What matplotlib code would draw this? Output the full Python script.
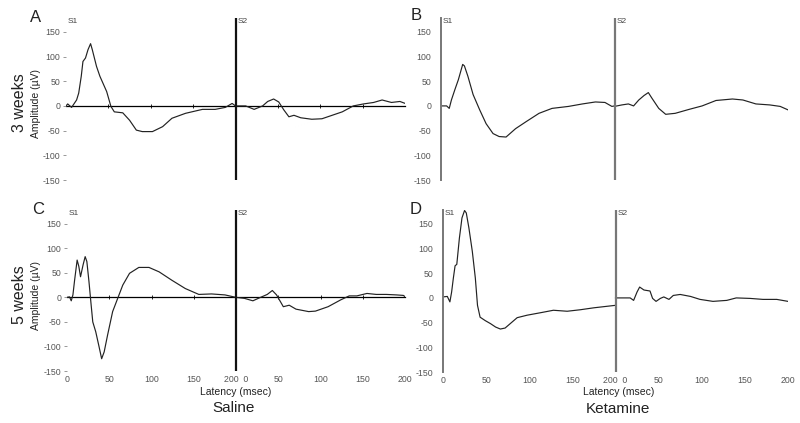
import numpy as np
import matplotlib
matplotlib.use("Agg")
import matplotlib.pyplot as plt

plt.rcParams['font.family'] = ['Liberation Sans', 'DejaVu Sans']

# latence (ms) et amplitude (uV), fenetre S1 puis fenetre S2
a_t1 = [0, 2, 6.6, 12.5, 15, 18, 20, 23, 26, 29, 31, 36, 40, 48, 53, 57, 67, 75, 83, 90,
        102, 114, 125, 141, 161, 176, 188, 196, 200]
a_v1 = [0, 4, -3, 12, 26, 60, 90, 97, 114, 126, 114, 80, 60, 29, -1, -12, -14, -29, -49, -52,
        -52, -42, -25, -15, -7, -7, -3, 5, 0]
a_t2 = [0, 12, 22, 32, 38, 45, 51, 57, 63, 69, 77, 90, 102, 114, 126, 139, 151, 163, 173,
        184, 194, 205]
a_v2 = [0, 0, -7, 0, 9, 14, 8, -8, -22, -19, -24, -27, -26, -19, -12, 0, 4, 7, 12,
        7, 9, 2]

b_t1 = [0, 6.5, 9.5, 12, 16, 20, 25, 27, 31, 37, 44.6, 52, 60, 67, 75, 86, 98, 113, 128,
        147, 163, 178, 189, 197, 200]
b_v1 = [0, 0, -5, 12, 33, 53, 84, 81, 60, 23, -8, -36, -56, -62, -63, -46, -32, -15, -5,
        -1, 4, 8, 7, -1, 0]
b_t2 = [0, 8.5, 16, 22, 28, 34, 39, 43, 51, 59, 70, 86, 101, 117, 136, 148, 163, 179, 191, 200]
b_v2 = [-1, 2, 4, 0, 12, 21, 27, 16, -5, -17, -15, -7, 0, 11, 14, 12, 4, 2, -1, -8]

c_t1 = [0, 3, 5, 7, 9, 12, 14, 16, 19, 21.5, 23.5, 26, 28.6, 30.5, 34, 38, 41, 44, 48, 54,
        60, 66, 74, 85, 97, 109, 124, 140, 156, 171, 187, 200]
c_v1 = [0, 1, -7, 5, 35, 76, 63, 42, 66, 83, 73, 32, -16, -50, -70, -101, -125, -111, -77, -29,
        -2, 25, 49, 61, 61, 52, 35, 18, 6, 7, 5, 0]
c_t2 = [0, 10, 20, 29, 37, 43, 48, 56, 63, 71, 86, 94, 109, 124, 134, 143, 155, 166, 178,
        190, 198, 203]
c_v2 = [0, -2, -7, 0, 6, 14, 5, -19, -16, -24, -29, -28, -19, -5, 3, 3, 8, 6, 6,
        5, 4, -2]

d_t1 = [0, 5, 8, 10, 12, 14, 16, 19, 22, 25, 27, 30, 34, 37.5, 40, 43, 49, 55, 61, 66.5,
        72, 78, 86, 97.5, 113, 128, 144, 159, 175, 190, 200]
d_v1 = [2, 3, -8, 12, 40, 65, 68, 121, 162, 177, 172, 142, 94, 40, -15, -39, -46, -52, -59, -63,
        -61, -52, -40, -35, -30, -25, -27, -24, -20, -17, -15]
d_t2 = [0, 17, 21, 25, 28, 33, 40, 43, 47, 52, 56, 62, 67, 75, 87, 98, 113, 129, 140,
        156, 171, 187, 200]
d_v2 = [0, 0, -5, 12, 22, 16, 14, -1, -7, -1, 2, -3, 5, 7, 3, -3, -7, -5, 0,
        -1, -3, -3, -7]

y_ticks = [-150, -100, -50, 0, 50, 100, 150]
x_ticks = [0, 50, 100, 150, 200, 250, 300, 350, 400]
x_labels = ['0', '50', '100', '150', '200  0', '50', '100', '150', '200']

W, H = 800, 423
fig = plt.figure(figsize=(W / 100, H / 100), dpi=100)


def px_axes(left, top, right, bottom):
    return fig.add_axes([left / W, 1 - bottom / H, (right - left) / W, (bottom - top) / H])


def panel(ax, t1, v1, t2, v2, saline, bottom_row):
    ax.plot(t1, v1, color='#222222', lw=0.85)
    ax.plot(np.array(t2) + 200, v2, color='#222222', lw=0.85)
    ax.set_xlim(0, 400)
    ax.set_ylim(-150, 178)
    for s in ['top', 'right', 'bottom']:
        ax.spines[s].set_visible(False)
    ax.set_yticks(y_ticks)
    ax.set_yticklabels([str(v) for v in y_ticks], fontsize=6.3, color='#555555')
    s2_col = '#111111' if saline else '#777777'
    ax.axvline(200, color=s2_col, lw=1.6)
    if saline:
        ax.spines['left'].set_visible(False)
        ax.tick_params(axis='y', length=2.5, width=0.6, color='#888888', pad=1.5)
        # axe horizontal a zero avec petites graduations
        frac = (0 + 150) / (178 + 150)
        sec = ax.secondary_xaxis(frac)
        sec.spines['bottom'].set_linewidth(0.9)
        sec.set_xticks([50, 100, 150, 250, 300, 350])
        sec.tick_params(direction='inout', length=3, width=0.6, labelbottom=False)
    else:
        ax.spines['left'].set_color('#777777')
        ax.spines['left'].set_linewidth(1.4)
        ax.tick_params(axis='y', length=0, pad=7)
    ax.set_xticks(x_ticks)
    if bottom_row:
        ax.set_xticklabels(x_labels, fontsize=6.3, color='#555555')
        ax.tick_params(axis='x', length=0, pad=3)
    else:
        ax.tick_params(axis='x', length=0, labelbottom=False)
    ax.text(2, 1.0, 'S1', transform=ax.get_xaxis_transform(), fontsize=6,
            color='#444444', va='top', ha='left')
    ax.text(202, 1.0, 'S2', transform=ax.get_xaxis_transform(), fontsize=6,
            color='#444444', va='top', ha='left')
    ax.patch.set_visible(False)


ax_a = px_axes(66, 18, 405, 180)
ax_b = px_axes(441, 18, 788, 180)
ax_c = px_axes(67, 210, 405, 371)
ax_d = px_axes(443, 210, 788, 372)

panel(ax_a, a_t1, a_v1, a_t2, a_v2, True, False)
panel(ax_b, b_t1, b_v1, b_t2, b_v2, False, False)
panel(ax_c, c_t1, c_v1, c_t2, c_v2, True, True)
panel(ax_d, d_t1, d_v1, d_t2, d_v2, False, True)

def ftext(x, y, s, **kw):
    fig.text(x / W, 1 - y / H, s, **kw)

for lab, x, y in [('A', 36, 17), ('B', 416, 16), ('C', 38, 209), ('D', 416, 209)]:
    ftext(x, y, lab, fontsize=12, ha='center', va='center', color='#222222')

ftext(20, 103, '3 weeks', fontsize=11.5, rotation=90, ha='center', va='center', color='#222222')
ftext(36, 103, 'Amplitude (µV)', fontsize=7.5, rotation=90, ha='center', va='center', color='#222222')
ftext(20, 295, '5 weeks', fontsize=11.5, rotation=90, ha='center', va='center', color='#222222')
ftext(36, 295, 'Amplitude (µV)', fontsize=7.5, rotation=90, ha='center', va='center', color='#222222')

ftext(236, 392, 'Latency (msec)', fontsize=7.5, ha='center', va='center', color='#222222')
ftext(619, 392, 'Latency (msec)', fontsize=7.5, ha='center', va='center', color='#222222')
ftext(234, 408, 'Saline', fontsize=11, ha='center', va='center', color='#222222')
ftext(618, 409, 'Ketamine', fontsize=11, ha='center', va='center', color='#222222')

fig.savefig('out.png', dpi=100, facecolor='white')
